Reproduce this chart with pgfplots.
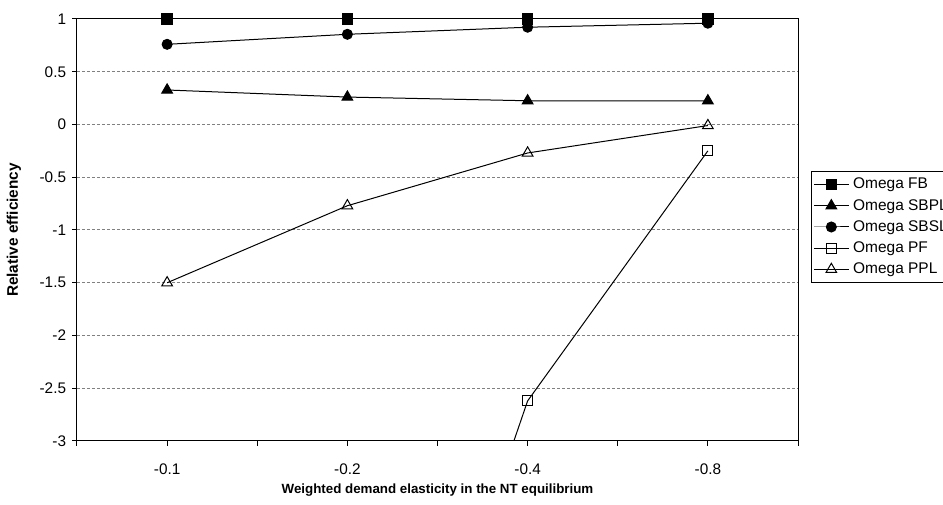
\documentclass[border=0pt]{standalone}
\usepackage{fontspec}
\setmainfont{Liberation Sans}
\usepackage{pgfplots}
\pgfplotsset{compat=1.18}
\begin{document}
\begin{tikzpicture}
\begin{axis}[
 at={(57.75pt,47.25pt)}, anchor=south west,
 scale only axis, width=540.75pt, height=316.5pt,
 xmin=-0.5, xmax=3.5, ymin=-3, ymax=1,
 xtick={0,1,2,3}, xticklabels={-0.1,-0.2,-0.4,-0.8},
 minor xtick={-0.5,0.5,1.5,2.5,3.5},
 ytick={-3,-2.5,-2,-1.5,-1,-0.5,0,0.5,1},
 yticklabels={-3,-2.5,-2,-1.5,-1,-0.5,0,0.5,1},
 tick align=outside, xtick pos=left, ytick pos=left,
 major tick length=3.5pt, minor tick length=3.5pt,
 tick style={black, line width=0.75pt},
 ymajorgrids, grid style={gray, dash pattern=on 2.25pt off 1.5pt, line width=0.75pt},
 axis line style={line width=0.75pt},
 ticklabel style={font=\fontsize{11.5}{13}\selectfont},
 yticklabel style={anchor=east, inner sep=0pt, xshift=-4.5pt},
 xticklabel style={anchor=center, inner sep=0pt, yshift=-18pt},
 xlabel={Weighted demand elasticity in the NT equilibrium},
 ylabel={Relative efficiency},
 xlabel style={font=\bfseries\fontsize{10}{12}\selectfont, at={(axis description cs:0.5,0)}, anchor=center, yshift=-36.75pt},
 ylabel style={font=\bfseries\fontsize{11.5}{13}\selectfont, at={(axis description cs:-0.0874,0.5)}, anchor=center},
 legend style={at={(1,0.5)}, anchor=west, xshift=9.75pt, yshift=2.25pt, draw=black, line width=0.75pt,
   font=\fontsize{11.6}{12}\selectfont, row sep=2.3pt, inner xsep=1.5pt, inner ysep=3pt,
   nodes={inner xsep=3pt}},
 legend cell align=left,
 legend image code/.code={\draw[#1, mark repeat=2, mark phase=2] plot coordinates {(0pt,0pt) (13pt,0pt) (26pt,0pt)};},
 every axis plot/.append style={black, line width=0.75pt},
]
\addplot[mark=square*, mark size=4pt, mark options={solid}] coordinates {(0,1) (1,1) (2,1) (3,1)};
\addlegendentry{Omega FB}
\addplot[mark=triangle*, mark size=4.6pt] coordinates {(0,0.327) (1,0.26) (2,0.225) (3,0.225)};
\addlegendentry{Omega SBPL}
\addplot[mark=*, mark size=3.75pt] coordinates {(0,0.76) (1,0.855) (2,0.922) (3,0.96)};
\addlegendentry{Omega SBSL}
\addplot[forget plot, no marks] coordinates {(1,-7.6) (2,-2.62)};
\addplot[mark=square, mark size=3.75pt, mark options={fill=white}] coordinates {(2,-2.62) (3,-0.25)};
\addlegendentry{Omega PF}
\addplot[mark=triangle, mark size=4.6pt, mark options={fill=white}] coordinates {(0,-1.5) (1,-0.77) (2,-0.27) (3,-0.01)};
\addlegendentry{Omega PPL}
\end{axis}
\pgfresetboundingbox
\path (0,0) rectangle (707.25pt,378pt);
\end{tikzpicture}
\end{document}
